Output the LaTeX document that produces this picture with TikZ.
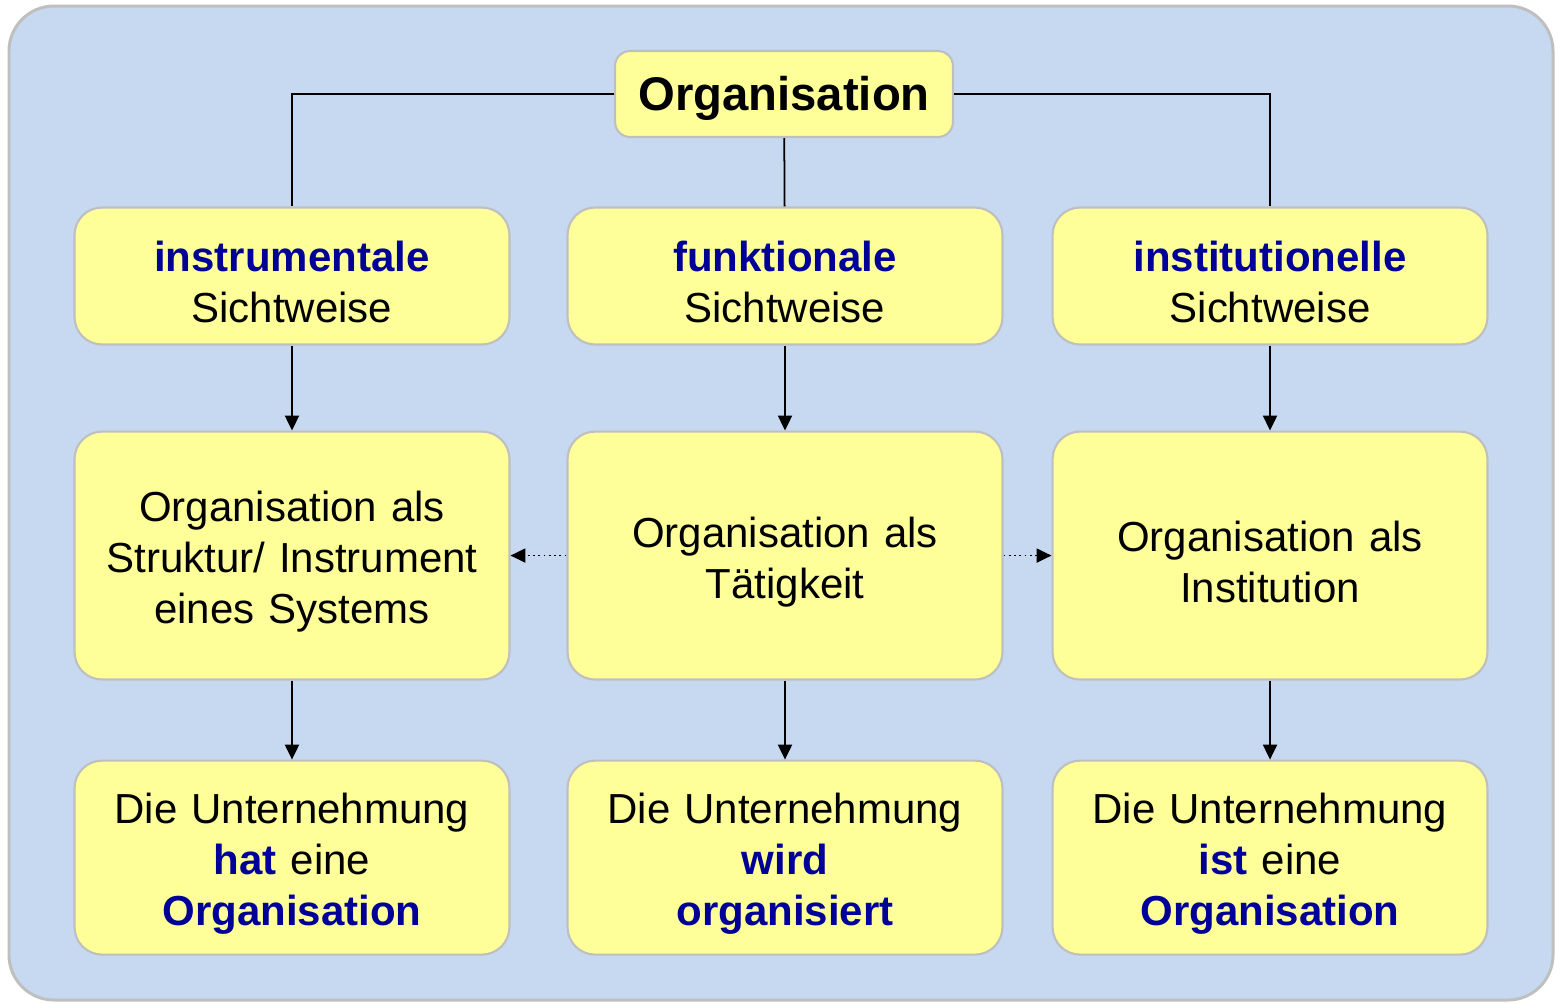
\documentclass[tikz,border=0pt]{standalone}
\usepackage{fontspec}
\setmainfont{Liberation Sans}
\usetikzlibrary{positioning}
\usetikzlibrary{arrows.meta}
\definecolor{bgblue}{RGB}{198,217,240}
\definecolor{boxyellow}{RGB}{255,255,153}
\definecolor{boxgray}{RGB}{191,191,191}
\definecolor{textblue}{RGB}{0,0,153}
\newcommand{\hi}[1]{{\color{textblue}\bfseries #1}}

\begin{document}
\begin{tikzpicture}[x=0.02cm, y=-0.02cm,
    viewbox/.style={rectangle, rounded corners=0.55cm, draw=boxgray, line width=1.2pt, fill=boxyellow, align=center, text width=8.4cm, minimum width=8.7cm, inner sep=0pt, font=\fontsize{23.9}{29}\selectfont, execute at begin node={\rule{0pt}{24.5pt}}},
    topbox/.style={viewbox, minimum height=2.74cm},
    midbox/.style={viewbox, minimum height=4.96cm},
    lowbox/.style={viewbox, minimum height=3.88cm},
    arr/.style={-{Triangle[length=8.5pt,width=8pt]}, line width=1pt},
    dotarr/.style={arr, dotted}]
    % background
    \useasboundingbox (0,0) rectangle (1555,1002);
    \draw[boxgray, line width=1.7pt, fill=bgblue, rounded corners=0.9cm] (9,6) rectangle (1553,1000);

    \node[rectangle, draw=boxgray, line width=1.2pt, fill=boxyellow, minimum width=6.76cm, minimum height=1.72cm, rounded corners=0.3cm, font=\fontsize{26.9}{32}\selectfont\bfseries] (org) at (784,94) {\rule{0pt}{24.5pt}Organisation};

    \node[topbox]   (funk)      at (785,276) {\hi{funktionale}\\Sichtweise};
    \node[topbox]   (instr)     [left=1.12cm of funk] {\hi{instrumentale}\\Sichtweise};
    \node[topbox]   (inst)      [right=0.96cm of funk] {\hi{institutionelle}\\Sichtweise};

    \node[midbox]   (instrals)  [below=1.70cm of instr] {Organisation als\\Struktur/ Instrument\\eines Systems};
    \node[midbox]   (funkals)   [below=1.70cm of funk] {Organisation als\\Tätigkeit};
    \node[midbox]   (instals)   [below=1.70cm of inst] {Organisation als\\Institution};

    \node[lowbox]   (instrunt)  [below=1.58cm of instrals] {Die Unternehmung\\\hi{hat} eine\\\hi{Organisation}};
    \node[lowbox]   (funkunt)   [below=1.58cm of funkals] {Die Unternehmung\\\hi{wird}\\\hi{organisiert}};
    \node[lowbox]   (instunt)   [below=1.58cm of instals] {Die Unternehmung\\\hi{ist} eine\\\hi{Organisation}};

    \draw[line width=1pt] (org.west) -| (instr.north);
    \draw[line width=1pt] (org.east) -| (inst.north);
    \draw[line width=1pt] (org) -- (funk);

    \draw[arr] (instr) -- (instrals);
    \draw[arr] (funk) -- (funkals);
    \draw[arr] (inst) -- (instals);
    \draw[arr] (instrals) -- (instrunt);
    \draw[arr] (funkals) -- (funkunt);
    \draw[arr] (instals) -- (instunt);

    \draw[dotarr] (funkals) -- (instrals);
    \draw[dotarr] (funkals) -- (instals);
\end{tikzpicture}
\end{document}
